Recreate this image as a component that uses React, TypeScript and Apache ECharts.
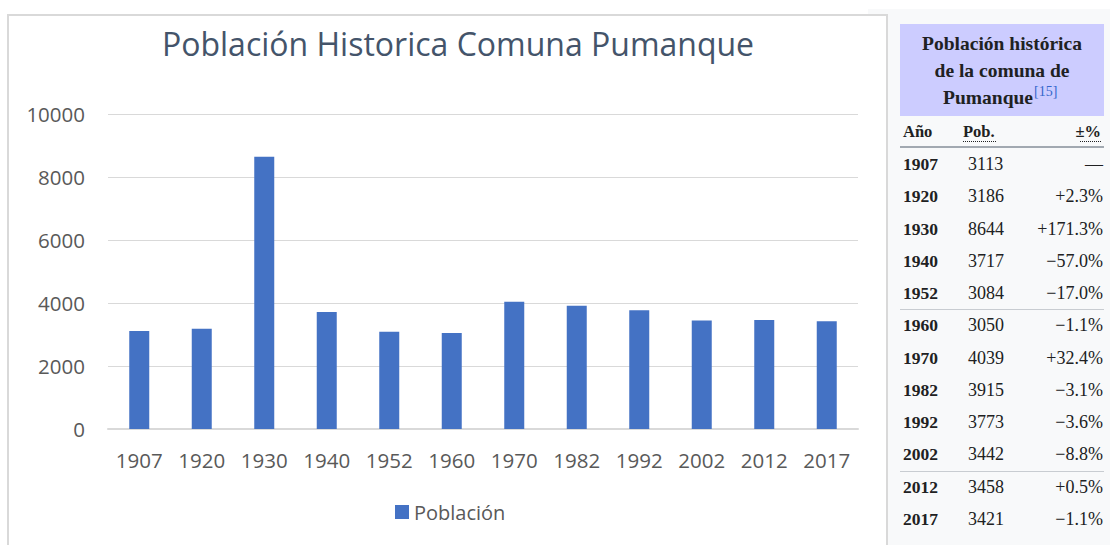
import React, { useEffect, useRef } from "react";
import * as echarts from "echarts";

const years = ["1907", "1920", "1930", "1940", "1952", "1960", "1970", "1982", "1992", "2002", "2012", "2017"];
const population = [3113, 3186, 8644, 3717, 3084, 3050, 4039, 3915, 3773, 3442, 3458, 3421];
const changes = ["—", "+2.3%", "+171.3%", "−57.0%", "−17.0%", "−1.1%", "+32.4%", "−3.1%", "−3.6%", "−8.8%", "+0.5%", "−1.1%"];
const yTicks = [0, 2000, 4000, 6000, 8000, 10000];
const chartTitle = "Población Historica Comuna Pumanque";
const seriesName = "Población";
const tableTitleLines = ["Población histórica", "de la comuna de", "Pumanque"];
const tableRef = "[15]";
const tableHeaders = ["Año", "Pob.", "±%"];
const separatorsAfter = [4, 9];

const SERIF = "'Liberation Serif', 'DejaVu Serif', serif";
const SANS = "'Open Sans', 'Noto Sans', sans-serif";

function txt(x: number, y: number, text: string, opts: any = {}) {
  const align = opts.align || "left";
  return {
    type: "text",
    x,
    y,
    z: 50,
    silent: true,
    style: {
      text,
      fill: opts.fill || "#202122",
      fontSize: opts.fontSize || 18,
      fontFamily: opts.fontFamily || SERIF,
      fontWeight: opts.fontWeight || "normal",
      textAlign: align,
      align,
      textVerticalAlign: "middle",
      verticalAlign: "middle",
    },
  };
}

export default function App() {
  const ref = useRef<HTMLDivElement>(null);

  useEffect(() => {
    if (!ref.current) return;
    const chart = echarts.init(ref.current, undefined, { renderer: "svg" });

    const rowY0 = 164;
    const rowStep = 32.27;
    const graphics: any[] = [
      { type: "rect", z: -20, silent: true, shape: { x: 868, y: 9, width: 242, height: 536 }, style: { fill: "#f8f9fa" } },
      { type: "rect", z: -10, silent: true, shape: { x: 8, y: 15, width: 879, height: 545 }, style: { fill: "#ffffff", stroke: "#d9d9d9", lineWidth: 2 } },
      { type: "rect", z: -5, silent: true, shape: { x: 900, y: 24, width: 204, height: 92 }, style: { fill: "#ccccff" } },
    ];
    tableTitleLines.forEach((line, i) => {
      if (i < tableTitleLines.length - 1) {
        graphics.push(txt(1002, 43 + i * 27, line, { align: "center", fontWeight: "bold", fontSize: 19.5 }));
      } else {
        graphics.push(txt(1033, 97, line, { align: "right", fontWeight: "bold", fontSize: 19.5 }));
        graphics.push(txt(1034, 91, tableRef, { align: "left", fontSize: 14, fill: "#3366cc" }));
      }
    });
    graphics.push(txt(903, 131, tableHeaders[0], { fontWeight: "bold", fontSize: 16.5 }));
    graphics.push(txt(963, 131, tableHeaders[1], { fontWeight: "bold", fontSize: 16.5 }));
    graphics.push(txt(1101, 131, tableHeaders[2], { align: "right", fontWeight: "bold", fontSize: 16.5 }));
    graphics.push({ type: "line", z: 50, silent: true, shape: { x1: 963, y1: 141.5, x2: 996, y2: 141.5 }, style: { stroke: "#202122", lineWidth: 1, lineDash: [1, 1] } });
    graphics.push({ type: "line", z: 50, silent: true, shape: { x1: 1080, y1: 141.5, x2: 1101, y2: 141.5 }, style: { stroke: "#202122", lineWidth: 1, lineDash: [1, 1] } });
    graphics.push({ type: "line", z: 50, silent: true, shape: { x1: 900, y1: 147, x2: 1104, y2: 147 }, style: { stroke: "#a2a9b1", lineWidth: 2 } });

    years.forEach((yr, i) => {
      const y = rowY0 + i * rowStep;
      graphics.push(txt(903, y, yr, { fontWeight: "bold", fontSize: 17.5 }));
      graphics.push(txt(968, y, String(population[i]), { fontSize: 18 }));
      graphics.push(txt(1103, y, changes[i], { align: "right", fontSize: 18 }));
    });
    separatorsAfter.forEach((idx) => {
      const y = Math.round(rowY0 + (idx + 0.5) * rowStep) + 0.5;
      graphics.push({ type: "line", z: 50, silent: true, shape: { x1: 900, y1: y, x2: 1104, y2: y }, style: { stroke: "#c8ccd1", lineWidth: 1 } });
    });

    chart.setOption({
      animation: false,
      backgroundColor: "#ffffff",
      title: {
        text: chartTitle,
        left: 453,
        textAlign: "center",
        top: 22,
        textStyle: { fontFamily: SANS, fontSize: 32, fontWeight: "normal", color: "#44546a" },
      },
      legend: {
        data: [seriesName],
        left: 395,
        top: 502,
        padding: 0,
        icon: "rect",
        itemWidth: 14,
        itemHeight: 14,
        itemGap: 6,
        textStyle: { fontFamily: SANS, fontSize: 20, color: "#595959" },
      },
      grid: { left: 108, right: 252, top: 114, bottom: 116, containLabel: false },
      xAxis: {
        type: "category",
        data: years,
        axisLine: { lineStyle: { color: "#d9d9d9", width: 2 } },
        axisTick: { show: false },
        axisLabel: { fontFamily: SANS, fontSize: 20.5, color: "#595959", margin: 20, interval: 0 },
      },
      yAxis: {
        type: "value",
        min: yTicks[0],
        max: yTicks[yTicks.length - 1],
        interval: 2000,
        axisLine: { show: false },
        axisTick: { show: false },
        splitLine: { lineStyle: { color: "#d9d9d9", width: 1 } },
        axisLabel: {
          fontFamily: SANS,
          fontSize: 20.5,
          color: "#595959",
          margin: 23,
          formatter: (v: number) => String(v),
        },
      },
      series: [
        {
          name: seriesName,
          type: "bar",
          data: population,
          barWidth: 20,
          itemStyle: { color: "#4472c4" },
        },
      ],
      graphic: { elements: graphics },
    });

    return () => chart.dispose();
  }, []);

  return (
    <div
      ref={ref}
      style={{ position: "fixed", left: 0, top: 0, width: 1110, height: 545 }}
    />
  );
}
